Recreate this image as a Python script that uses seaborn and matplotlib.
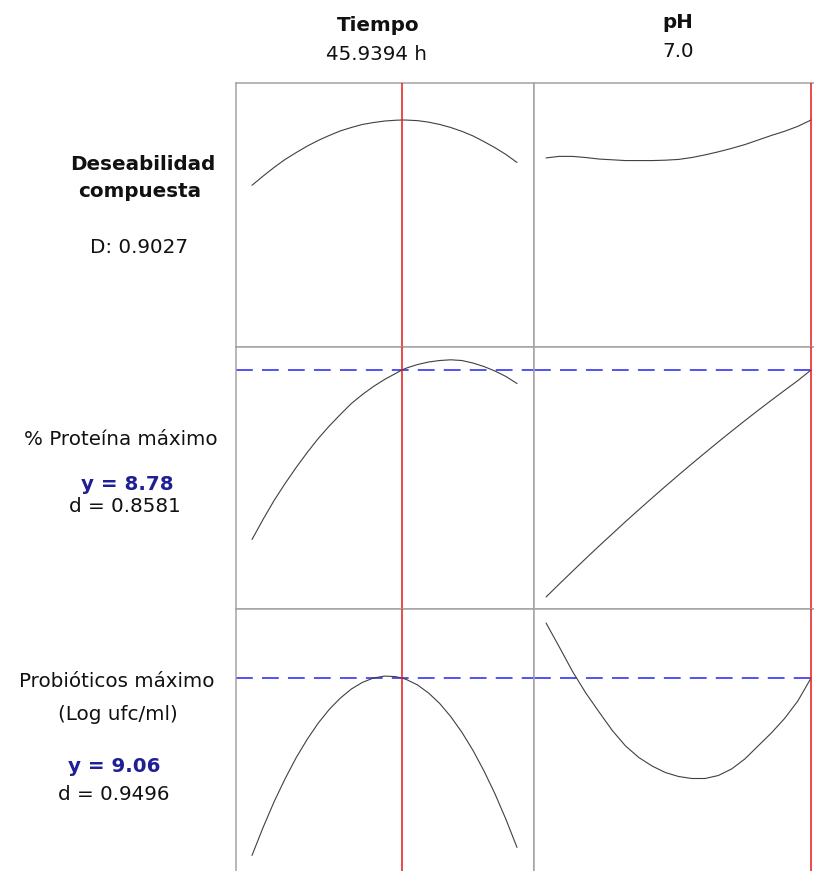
"""Minitab-style response optimizer plot: Tiempo / pH vs desirability and responses."""

import matplotlib

matplotlib.use("Agg")
import matplotlib.pyplot as plt
import pandas as pd
import seaborn as sns

# factor grids
tiempo = [12, 14.5, 17, 19.5, 22, 24.5, 27, 29.5, 32, 34.5, 37, 39.5, 42, 44.5,
          45.9394, 47, 49.5, 52, 54.5, 57, 59.5, 62, 64.5, 67, 69.5, 72]
ph = [5.0, 5.1, 5.2, 5.3, 5.4, 5.5, 5.6, 5.7, 5.8, 5.9, 6.0,
      6.1, 6.2, 6.3, 6.4, 6.5, 6.6, 6.7, 6.8, 6.9, 7.0]

tiempo_opt = 45.9394
ph_opt = 7.0

# composite desirability
d_comp_tiempo = [0.731, 0.755, 0.778, 0.799, 0.817, 0.834, 0.849, 0.862, 0.874,
                 0.883, 0.891, 0.896, 0.900, 0.902, 0.9027, 0.9025, 0.901, 0.897,
                 0.891, 0.883, 0.873, 0.861, 0.846, 0.830, 0.812, 0.791]
d_comp_ph = [0.803, 0.807, 0.807, 0.804, 0.800, 0.798, 0.796, 0.796, 0.796,
             0.797, 0.799, 0.804, 0.811, 0.819, 0.828, 0.838, 0.850, 0.862,
             0.873, 0.886, 0.9027]
d_comp = 0.9027

# % proteina
prot_tiempo = [7.085, 7.285, 7.475, 7.645, 7.805, 7.955, 8.095, 8.22, 8.335,
               8.445, 8.535, 8.615, 8.685, 8.745, 8.78, 8.80, 8.835, 8.86,
               8.875, 8.882, 8.875, 8.85, 8.815, 8.77, 8.715, 8.645]
prot_ph = [6.51, 6.64, 6.768, 6.895, 7.02, 7.142, 7.264, 7.383, 7.50, 7.616,
           7.73, 7.842, 7.952, 8.061, 8.168, 8.273, 8.376, 8.477, 8.576,
           8.674, 8.78]
prot_opt = 8.78
prot_d = 0.8581

# probioticos (log ufc/ml)
prob_tiempo = [7.286, 7.564, 7.822, 8.053, 8.263, 8.447, 8.609, 8.746, 8.859,
               8.95, 9.016, 9.06, 9.079, 9.074, 9.06, 9.044, 8.99, 8.909,
               8.805, 8.674, 8.519, 8.339, 8.133, 7.903, 7.646, 7.366]
prob_ph = [9.61, 9.37, 9.125, 8.91, 8.72, 8.535, 8.38, 8.265, 8.18, 8.115,
           8.075, 8.055, 8.055, 8.085, 8.15, 8.25, 8.38, 8.51, 8.655, 8.83, 9.06]
prob_opt = 9.06
prob_d = 0.9496

W, H = 814, 871

sns.set_theme(style="white")
plt.rcParams["font.family"] = ["DejaVu Sans"]

fig = plt.figure(figsize=(W / 100, H / 100), dpi=100)


def px_axes(x0, y0, x1, y1):
    return fig.add_axes([x0 / W, 1 - y1 / H, (x1 - x0) / W, (y1 - y0) / H])


rows = [
    (83, 347, (0.3057, 1.0), d_comp_tiempo, d_comp_ph, None),
    (347, 609, (6.39, 9.01), prot_tiempo, prot_ph, prot_opt),
    (609, 873, (7.11, 9.75), prob_tiempo, prob_ph, prob_opt),
]

grey = "#a3a3a3"
for top, bottom, ylim, y_t, y_p, target in rows:
    for x0, x1, xs, ys, xlim, xopt in [
        (236, 534, tiempo, y_t, (8.38, 75.85), tiempo_opt),
        (534, 832, ph, y_p, (4.909, 7.158), ph_opt),
    ]:
        ax = px_axes(x0, top, x1, bottom)
        df = pd.DataFrame({"x": xs, "y": ys})
        sns.lineplot(data=df, x="x", y="y", ax=ax, color="#404040",
                     linewidth=0.8, sort=True, zorder=3)
        ax.axvline(xopt, color="#e41a1a", linewidth=1.1, zorder=4)
        if target is not None:
            ax.axhline(target, color="#2323f0", linewidth=1.1,
                       linestyle=(0, (11, 6)), zorder=2)
        ax.set_xlim(*xlim)
        ax.set_ylim(*ylim)
        ax.set_xticks([])
        ax.set_yticks([])
        ax.set_xlabel("")
        ax.set_ylabel("")
        for s in ax.spines.values():
            s.set_color(grey)
            s.set_linewidth(1.1)


def label(x, y, s, bold=False, color="#111111"):
    # y is the text baseline in pixels from the top
    fig.text(x / W, 1 - y / H, s, ha="center", va="baseline", fontsize=14.3,
             fontweight="bold" if bold else "normal", color=color)


navy = "#1f1f96"
label(378, 31, "Tiempo", bold=True)
label(377, 60, f"{tiempo_opt} h")
label(678, 28, "pH", bold=True)
label(678, 57, f"{ph_opt:.1f}")

label(143, 170, "Deseabilidad", bold=True)
label(140, 197, "compuesta", bold=True)
label(139, 253, f"D: {d_comp:.4f}")

label(121, 445, "% Proteína máximo")
label(127, 490, f"y = {prot_opt:.2f}", bold=True, color=navy)
label(125, 512, f"d = {prot_d:.4f}")

label(117, 687, "Probióticos máximo")
label(118, 720, "(Log ufc/ml)")
label(114, 772, f"y = {prob_opt:.2f}", bold=True, color=navy)
label(114, 800, f"d = {prob_d:.4f}")

fig.savefig("out.png", dpi=100)
